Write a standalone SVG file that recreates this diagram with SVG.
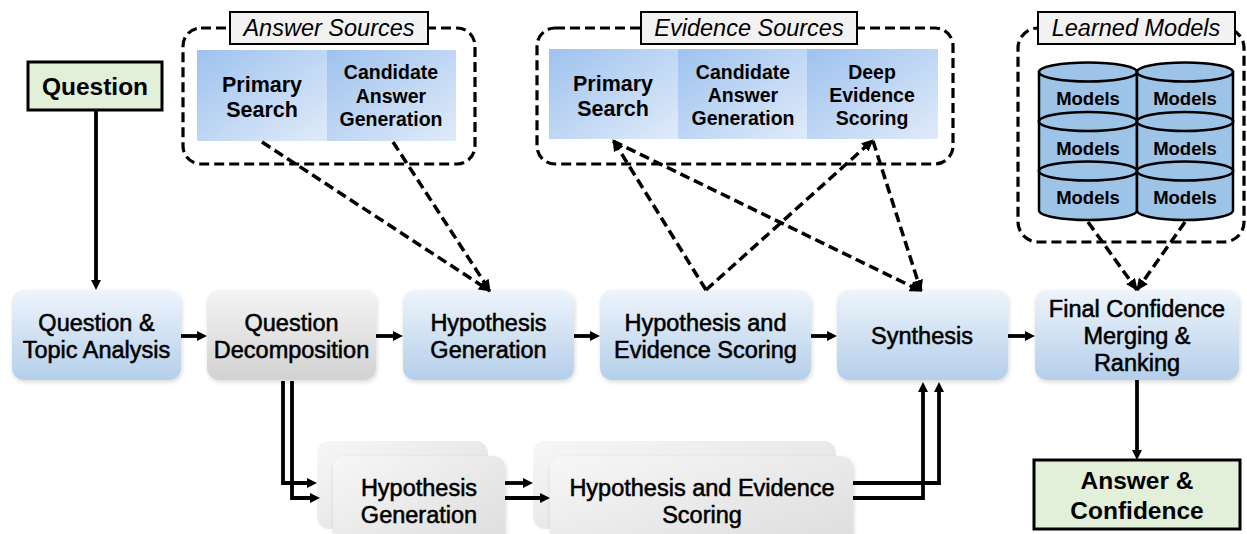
<svg xmlns="http://www.w3.org/2000/svg" width="1247" height="534" viewBox="0 0 1247 534">
<style>
.t{font-family:"Liberation Sans",Arial,sans-serif;fill:#000;text-anchor:middle}
.main{font-size:23.5px;stroke:#000;stroke-width:0.55}
.cell{font-size:19.5px;font-weight:bold}
.cellL{font-size:21.5px;font-weight:bold}
.lbl{font-size:23.5px;font-style:italic}
.big{font-size:24.5px;font-weight:bold}
.mod{font-size:18.5px;font-weight:bold}
.dbox{fill:none;stroke:#000;stroke-width:3.2;stroke-dasharray:10 5}
.lab{fill:#f2f2f2;stroke:#000;stroke-width:2}
.conn{fill:none;stroke:#000;stroke-width:3.8}
.dconn{fill:none;stroke:#000;stroke-width:3.5;stroke-dasharray:10 5}
.cyl{fill:#9dc3e6;stroke:#000;stroke-width:2.5}
.term{fill:#e2efd9;stroke:#000;stroke-width:3}
</style>
<defs>
<linearGradient id="gb" x1="0" y1="0" x2="0" y2="1"><stop offset="0" stop-color="#eef4fb"/><stop offset="1" stop-color="#b4cfea"/></linearGradient>
<linearGradient id="gg" x1="0" y1="0" x2="0" y2="1"><stop offset="0" stop-color="#f4f4f4"/><stop offset="1" stop-color="#d2d2d2"/></linearGradient>
<linearGradient id="gl" x1="0" y1="0" x2="1" y2="1"><stop offset="0" stop-color="#f7f7f7"/><stop offset="1" stop-color="#dcdcdc"/></linearGradient>
<linearGradient id="gc" x1="0" y1="0" x2="1" y2="1"><stop offset="0" stop-color="#9ec2ef"/><stop offset="1" stop-color="#e0ebf9"/></linearGradient>
<filter id="sh" x="-10%" y="-10%" width="130%" height="130%"><feDropShadow dx="1" dy="2" stdDeviation="2" flood-color="#000" flood-opacity="0.15"/></filter>
<marker id="ah" markerUnits="userSpaceOnUse" markerWidth="11" markerHeight="11" refX="1" refY="5" orient="auto"><path d="M0,0 L10,5 L0,10 z" fill="#000"/></marker>
<marker id="dh" markerUnits="userSpaceOnUse" markerWidth="13" markerHeight="12" refX="11" refY="5.5" orient="auto"><path d="M0,0 L12,5.5 L0,11 z" fill="#000"/></marker>
</defs>

<g id="answer-sources">
<rect class="dbox" x="183" y="28" width="292" height="136" rx="18"/>
<rect x="197" y="50" width="130" height="91" fill="url(#gc)"/>
<rect x="327" y="50" width="129" height="91" fill="url(#gc)"/>
<rect class="lab" x="230" y="12" width="198" height="32"/>
<text class="t lbl" x="329" y="36">Answer Sources</text>
<text class="t cellL" x="262" y="92">Primary</text>
<text class="t cellL" x="262" y="117">Search</text>
<text class="t cell" x="391" y="79">Candidate</text>
<text class="t cell" x="391" y="103">Answer</text>
<text class="t cell" x="391" y="126">Generation</text>
</g>

<g id="evidence-sources">
<rect class="dbox" x="537" y="28" width="416" height="136" rx="18"/>
<rect x="549" y="49" width="129" height="90" fill="url(#gc)"/>
<rect x="678" y="49" width="129" height="90" fill="url(#gc)"/>
<rect x="807" y="49" width="131" height="90" fill="url(#gc)"/>
<rect class="lab" x="641" y="12" width="216" height="32"/>
<text class="t lbl" x="749" y="36">Evidence Sources</text>
<text class="t cellL" x="613" y="91">Primary</text>
<text class="t cellL" x="613" y="116">Search</text>
<text class="t cell" x="743" y="79">Candidate</text>
<text class="t cell" x="743" y="102">Answer</text>
<text class="t cell" x="743" y="125">Generation</text>
<text class="t cell" x="872" y="79">Deep</text>
<text class="t cell" x="872" y="102">Evidence</text>
<text class="t cell" x="872" y="125">Scoring</text>
</g>

<g id="learned-models">
<rect class="dbox" x="1018" y="28" width="226" height="214" rx="20"/>
<rect class="lab" x="1038" y="12" width="197" height="32"/>
<text class="t lbl" x="1136" y="36">Learned Models</text>
<g id="cyl-1-1"><path class="cyl" d="M1039,72 V121.5 A49,9.5 0 0 0 1137,121.5 V72 Z"/><ellipse class="cyl" cx="1088" cy="72" rx="49" ry="9.5"/><text class="t mod" x="1088" y="105">Models</text></g>
<g id="cyl-1-2"><path class="cyl" d="M1137,72 V121.5 A48,9.5 0 0 0 1233,121.5 V72 Z"/><ellipse class="cyl" cx="1185" cy="72" rx="48" ry="9.5"/><text class="t mod" x="1185" y="105">Models</text></g>
<g id="cyl-2-1"><path class="cyl" d="M1039,121.5 V171 A49,9.5 0 0 0 1137,171 V121.5 Z"/><ellipse class="cyl" cx="1088" cy="121.5" rx="49" ry="9.5"/><text class="t mod" x="1088" y="155">Models</text></g>
<g id="cyl-2-2"><path class="cyl" d="M1137,121.5 V171 A48,9.5 0 0 0 1233,171 V121.5 Z"/><ellipse class="cyl" cx="1185" cy="121.5" rx="48" ry="9.5"/><text class="t mod" x="1185" y="155">Models</text></g>
<g id="cyl-3-1"><path class="cyl" d="M1039,171 V210.5 A49,9.5 0 0 0 1137,210.5 V171 Z"/><ellipse class="cyl" cx="1088" cy="171" rx="49" ry="9.5"/><text class="t mod" x="1088" y="204">Models</text></g>
<g id="cyl-3-2"><path class="cyl" d="M1137,171 V210.5 A48,9.5 0 0 0 1233,210.5 V171 Z"/><ellipse class="cyl" cx="1185" cy="171" rx="48" ry="9.5"/><text class="t mod" x="1185" y="204">Models</text></g>
</g>

<g id="question">
<rect class="term" x="28" y="62" width="134" height="48"/>
<text class="t big" x="95" y="95">Question</text>
</g>

<g id="question-topic-analysis">
<rect x="12" y="290" width="169" height="90" rx="12" fill="url(#gb)" filter="url(#sh)"/>
<text class="t main" x="96.5" y="331">Question &amp;</text>
<text class="t main" x="96.5" y="358">Topic Analysis</text>
</g>
<g id="question-decomposition">
<rect x="207" y="290" width="169" height="90" rx="12" fill="url(#gg)" filter="url(#sh)"/>
<text class="t main" x="291.5" y="331">Question</text>
<text class="t main" x="291.5" y="358">Decomposition</text>
</g>
<g id="hypothesis-generation">
<rect x="403" y="290" width="171" height="90" rx="12" fill="url(#gb)" filter="url(#sh)"/>
<text class="t main" x="488.5" y="331">Hypothesis</text>
<text class="t main" x="488.5" y="358">Generation</text>
</g>
<g id="hypothesis-evidence-scoring">
<rect x="600" y="290" width="211" height="90" rx="12" fill="url(#gb)" filter="url(#sh)"/>
<text class="t main" x="705.5" y="331">Hypothesis and</text>
<text class="t main" x="705.5" y="358">Evidence Scoring</text>
</g>
<g id="synthesis">
<rect x="837" y="290" width="171" height="90" rx="12" fill="url(#gb)" filter="url(#sh)"/>
<text class="t main" x="922" y="344">Synthesis</text>
</g>
<g id="final-confidence">
<rect x="1035" y="290" width="204" height="90" rx="12" fill="url(#gb)" filter="url(#sh)"/>
<text class="t main" x="1137" y="317">Final Confidence</text>
<text class="t main" x="1137" y="344">Merging &amp;</text>
<text class="t main" x="1137" y="371">Ranking</text>
</g>

<g id="lower-hypothesis-generation">
<rect x="317" y="441" width="171" height="88" rx="12" fill="url(#gl)"/>
<rect x="333" y="456" width="172" height="95" rx="12" fill="url(#gl)" filter="url(#sh)"/>
<text class="t main" x="419" y="496">Hypothesis</text>
<text class="t main" x="419" y="523">Generation</text>
</g>
<g id="lower-hypothesis-evidence-scoring">
<rect x="533" y="441" width="303" height="88" rx="12" fill="url(#gl)"/>
<rect x="550" y="456" width="303" height="95" rx="12" fill="url(#gl)" filter="url(#sh)"/>
<text class="t main" x="702" y="496">Hypothesis and Evidence</text>
<text class="t main" x="702" y="523">Scoring</text>
</g>

<g id="answer-confidence">
<rect class="term" x="1034" y="460" width="206" height="69"/>
<text class="t big" x="1137" y="489">Answer &amp;</text>
<text class="t big" x="1137" y="519">Confidence</text>
</g>

<g id="connectors">
<path class="conn" d="M96,111 V281" marker-end="url(#ah)"/>
<path class="conn" d="M181,336 H198" marker-end="url(#ah)"/>
<path class="conn" d="M376,336 H394" marker-end="url(#ah)"/>
<path class="conn" d="M574,336 H591" marker-end="url(#ah)"/>
<path class="conn" d="M811,336 H828" marker-end="url(#ah)"/>
<path class="conn" d="M1008,336 H1026" marker-end="url(#ah)"/>
<path class="conn" d="M1137,380 V451" marker-end="url(#ah)"/>
<path class="conn" d="M283,381 V483 H308" marker-end="url(#ah)"/>
<path class="conn" d="M292,381 V498 H311" marker-end="url(#ah)"/>
<path class="conn" d="M505,483 H524" marker-end="url(#ah)"/>
<path class="conn" d="M505,498 H541" marker-end="url(#ah)"/>
<path class="conn" d="M853,483 H939 V391" marker-end="url(#ah)"/>
<path class="conn" d="M853,498 H923 V391" marker-end="url(#ah)"/>
<path class="dconn" d="M262,142 L490,291" marker-end="url(#dh)"/>
<path class="dconn" d="M393,142 L490,291" marker-end="url(#dh)"/>
<path class="dconn" d="M706,290 L613,140" marker-end="url(#dh)"/>
<path class="dconn" d="M706,290 L873,140" marker-end="url(#dh)"/>
<path class="dconn" d="M613,141 L921,291" marker-end="url(#dh)"/>
<path class="dconn" d="M873,141 L921,291" marker-end="url(#dh)"/>
<path class="dconn" d="M1088,222 L1137,290" marker-end="url(#dh)"/>
<path class="dconn" d="M1185,222 L1137,290" marker-end="url(#dh)"/>
</g>
</svg>
